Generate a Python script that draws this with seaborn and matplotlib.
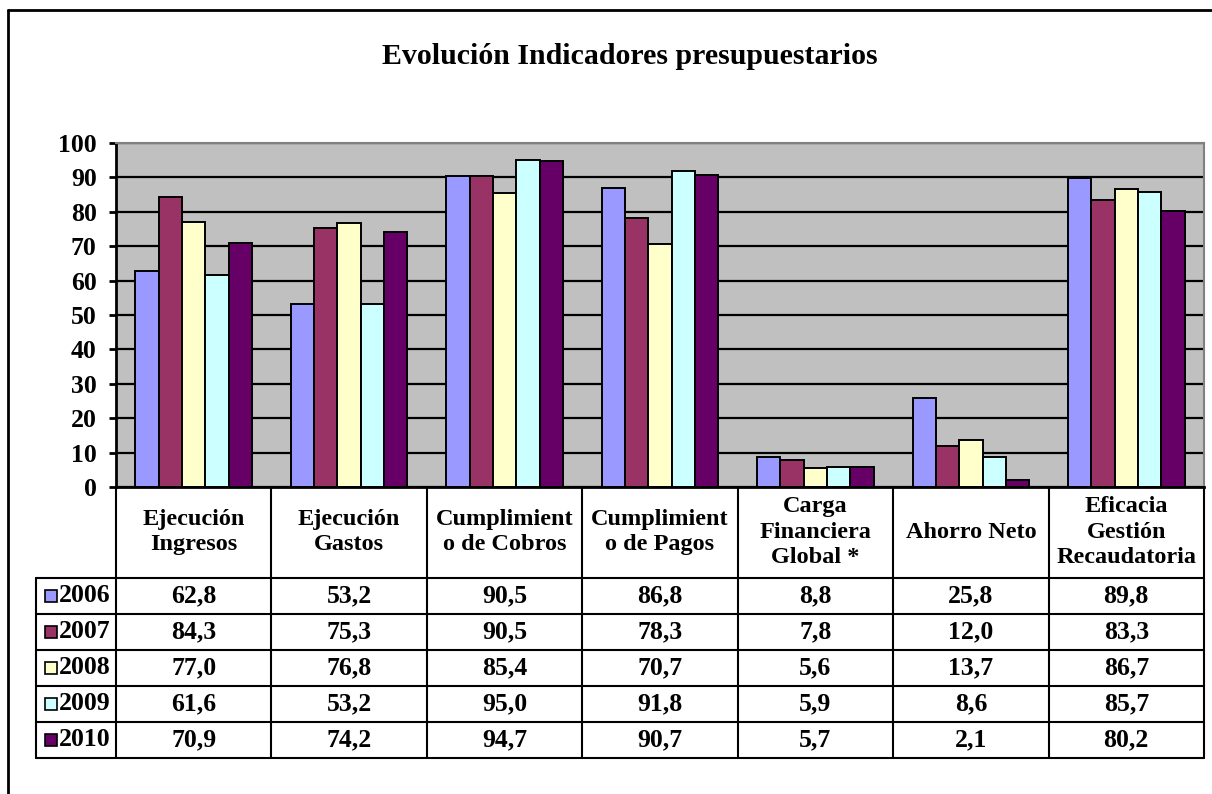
import matplotlib
matplotlib.use("Agg")
import matplotlib.pyplot as plt
import seaborn as sns
import pandas as pd
from matplotlib.lines import Line2D
from matplotlib.patches import Rectangle
import matplotlib.transforms as mtransforms

# ---- data ----
categories = ["Ejecución\nIngresos", "Ejecución\nGastos", "Cumplimient\no de Cobros",
              "Cumplimient\no de Pagos", "Carga\nFinanciera\nGlobal *", "Ahorro Neto",
              "Eficacia\nGestión\nRecaudatoria"]
years = ["2006", "2007", "2008", "2009", "2010"]
v2006 = [62.8, 53.2, 90.5, 86.8, 8.8, 25.8, 89.8]
v2007 = [84.3, 75.3, 90.5, 78.3, 7.8, 12.0, 83.3]
v2008 = [77.0, 76.8, 85.4, 70.7, 5.6, 13.7, 86.7]
v2009 = [61.6, 53.2, 95.0, 91.8, 5.9, 8.6, 85.7]
v2010 = [70.9, 74.2, 94.7, 90.7, 5.7, 2.1, 80.2]
series = [v2006, v2007, v2008, v2009, v2010]
colors = ["#9999FF", "#993366", "#FFFFCC", "#CCFFFF", "#660066"]
title = "Evolución Indicadores presupuestarios"
yticks = list(range(0, 101, 10))

rows = []
for y, vals in zip(years, series):
    for c, v in zip(categories, vals):
        rows.append({"Indicador": c, "Año": y, "Valor": v})
df = pd.DataFrame(rows)

sns.set_theme(style="white")
plt.rcParams["font.family"] = ["Liberation Serif", "DejaVu Serif"]
plt.rcParams["font.weight"] = "bold"
plt.rcParams["text.color"] = "black"
plt.rcParams["ytick.color"] = "black"
plt.rcParams["ytick.labelcolor"] = "black"

W, H = 1212, 794
fig = plt.figure(figsize=(W / 100, H / 100), dpi=100)
fig.patch.set_facecolor("white")

def fx(px):
    return px / W

def fy(py):
    return 1 - py / H

L, R, T, B = 116, 1204, 143, 487
ax = fig.add_axes([fx(L), fy(B), fx(R) - fx(L), fy(T) - fy(B)])
ax.set_facecolor("#C0C0C0")

sns.barplot(data=df, x="Indicador", y="Valor", hue="Año", order=categories,
            hue_order=years, palette=colors, saturation=1, width=0.75,
            edgecolor="black", linewidth=1.4, ax=ax, legend=False, errorbar=None)

ax.set_xlim(-0.5, len(categories) - 0.5)
ax.set_ylim(0, 100)
ax.set_yticks(yticks)
ax.set_yticklabels([str(t) for t in yticks], fontsize=18.5, fontweight="bold", color="black")
ax.set_xticks([])
ax.set_xlabel("")
ax.set_ylabel("")
ax.set_axisbelow(True)
ax.yaxis.grid(True, color="black", linewidth=1.6)
ax.xaxis.grid(False)
ax.tick_params(axis="y", direction="out", length=5, width=2, color="black", pad=9, left=True)
for s in ["top", "right"]:
    ax.spines[s].set_color("#808080")
    ax.spines[s].set_linewidth(1.5)
ax.spines["left"].set_color("black")
ax.spines["left"].set_linewidth(2)
ax.spines["bottom"].set_color("black")
ax.spines["bottom"].set_linewidth(2)

# ---- frame ----
fig.add_artist(Line2D([fx(8), fx(8)], [fy(10), fy(794)], color="black", lw=2))
fig.add_artist(Line2D([fx(8), fx(1212)], [fy(10), fy(10)], color="black", lw=2))

# ---- title ----
fig.text(fx(630), fy(57), title, ha="center", va="center", fontsize=21.5, fontweight="bold",
         color="black")

# ---- data table ----
trans = mtransforms.blended_transform_factory(ax.transData, fig.transFigure)
row_y = [578, 614, 650, 686, 722, 758]
lw = 1.5
n = len(categories)
for i in range(n + 1):
    xd = i - 0.5
    fig.add_artist(Line2D([xd, xd], [fy(B), fy(row_y[-1])], color="black", lw=lw, transform=trans))
for yy in row_y:
    fig.add_artist(Line2D([fx(36), fx(R)], [fy(yy), fy(yy)], color="black", lw=lw))
fig.add_artist(Line2D([fx(36), fx(36)], [fy(row_y[0]), fy(row_y[-1])], color="black", lw=lw))

for i, c in enumerate(categories):
    fig.text(i, fy(532), c, ha="center", va="center", fontsize=17.5, fontweight="bold",
             linespacing=1.28, transform=trans, color="black")

for r, (yr, vals, col) in enumerate(zip(years, series, colors)):
    yc = (row_y[r] + row_y[r + 1]) / 2
    fig.add_artist(Rectangle((fx(45), fy(yc + 6)), fx(12), 12 / H, facecolor=col,
                             edgecolor="black", lw=1.2, transform=fig.transFigure))
    fig.text(fx(59), fy(yc), yr, ha="left", va="center", fontsize=18.5, fontweight="bold",
             color="black")
    for i, v in enumerate(vals):
        fig.text(i, fy(yc), f"{v:.1f}".replace(".", ","), ha="center", va="center",
                 fontsize=18.5, fontweight="bold", transform=trans, color="black")

fig.savefig("out.png", dpi=100)
